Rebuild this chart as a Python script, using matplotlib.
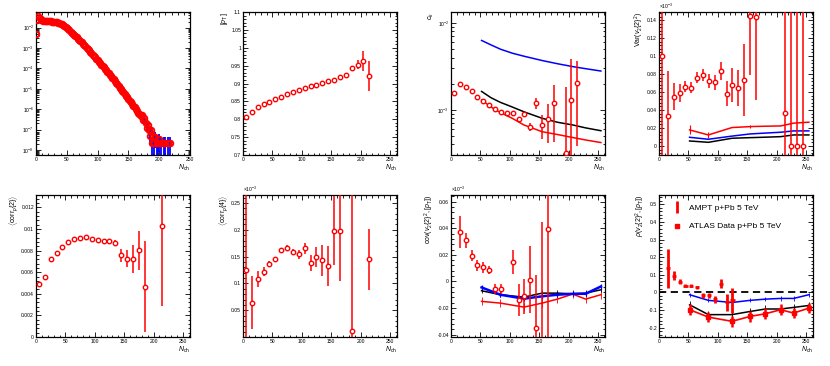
import numpy as np
import matplotlib
matplotlib.use("Agg")
import matplotlib.pyplot as plt
from matplotlib.ticker import AutoMinorLocator, MultipleLocator, LogLocator
from matplotlib.lines import Line2D

matplotlib.rcParams['font.family'] = ['Liberation Sans', 'DejaVu Sans']
matplotlib.rcParams['mathtext.fontset'] = 'custom'
matplotlib.rcParams['mathtext.rm'] = 'Liberation Sans'
matplotlib.rcParams['mathtext.it'] = 'Liberation Sans:italic'

RED, BLUE = "#ff0000", "#0000ff"

# ---- panel 1: multiplicity distribution (log10 of P(Nch)) ----
mult_n = np.arange(0, 171, 2)
mult_log = [-2.30, -1.60, -1.44, -1.52, -1.60, -1.64, -1.66, -1.66, -1.67, -1.67,
            -1.68, -1.68, -1.69, -1.70, -1.71, -1.72, -1.73, -1.74, -1.76, -1.78,
            -1.80, -1.84, -1.88, -1.93, -1.98, -2.03, -2.08, -2.13, -2.19, -2.24,
            -2.30, -2.36, -2.42, -2.48, -2.54, -2.60, -2.66, -2.72, -2.79, -2.85,
            -2.92, -2.98, -3.05, -3.11, -3.18, -3.25, -3.32, -3.39, -3.46, -3.53,
            -3.60, -3.67, -3.74, -3.81, -3.88, -3.95, -4.02, -4.09, -4.17, -4.24,
            -4.32, -4.39, -4.47, -4.54, -4.62, -4.70, -4.78, -4.86, -4.94, -5.02,
            -5.10, -5.18, -5.26, -5.34, -5.42, -5.50, -5.58, -5.66, -5.75, -5.83,
            -5.91, -6.00, -6.08, -6.17, -6.25, -6.34]
tail_n = [172, 174, 176, 178, 180, 182, 184, 185, 187, 188, 190, 192, 194, 196,
          198, 200, 203, 207, 210, 214, 218]
tail_log = [-6.30, -6.55, -6.45, -6.70, -6.90, -6.80, -7.00, -7.30, -7.00, -7.67,
            -7.30, -7.67, -7.37, -7.67, -7.67, -7.45, -7.67, -7.67, -7.67, -7.67,
            -7.67]
single_count_log = -7.67

# ---- bin centres for the profile panels ----
nb = [5, 15, 25, 35, 45, 55, 65, 75, 85, 95, 105, 115, 125, 135, 145, 155,
      165, 175, 185, 195, 205, 215]

# panel 2: mean pT
pt_mean = [0.806, 0.821, 0.835, 0.842, 0.849, 0.856, 0.863, 0.870, 0.876, 0.882,
           0.887, 0.892, 0.897, 0.901, 0.906, 0.911, 0.918, 0.924, 0.942, 0.953,
           0.962, 0.921]
pt_err = [0.002, 0.002, 0.002, 0.002, 0.002, 0.002, 0.002, 0.002, 0.002, 0.002,
          0.002, 0.002, 0.002, 0.002, 0.002, 0.002, 0.003, 0.004, 0.008, 0.013,
          0.028, 0.042]

# panel 3: c_k
ck_n = [5, 15, 25, 35, 45, 55, 65, 75, 85, 95, 105, 115, 125, 135, 145, 155,
        165, 175, 195, 205, 215]
ck_val = [1.58e-3, 2.0e-3, 1.83e-3, 1.63e-3, 1.40e-3, 1.25e-3, 1.14e-3, 1.03e-3,
          0.955e-3, 0.93e-3, 0.916e-3, 0.79e-3, 0.89e-3, 0.64e-3, 1.19e-3,
          0.67e-3, 0.79e-3, 1.19e-3, 0.32e-3, 1.30e-3, 2.03e-3]
ck_err = [0.02e-3, 0.02e-3, 0.02e-3, 0.02e-3, 0.02e-3, 0.02e-3, 0.02e-3, 0.02e-3,
          0.02e-3, 0.02e-3, 0.02e-3, 0.03e-3, 0.05e-3, 0.07e-3, 0.17e-3,
          0.21e-3, 0.37e-3, 0.76e-3, 1.5e-3, 2.6e-3, 1.65e-3]
ck_model_n = [52, 68, 84, 104, 124, 155, 181, 207, 229, 255]
ck_blue = [6.3e-3, 5.6e-3, 5.0e-3, 4.5e-3, 4.15e-3, 3.7e-3, 3.4e-3, 3.15e-3,
           2.98e-3, 2.8e-3]
ck_black = [1.63e-3, 1.38e-3, 1.22e-3, 1.08e-3, 0.95e-3, 0.80e-3, 0.72e-3,
            0.67e-3, 0.62e-3, 0.575e-3]
ck_red = [1.30e-3, 1.08e-3, 0.93e-3, 0.80e-3, 0.67e-3, 0.56e-3, 0.52e-3,
          0.48e-3, 0.45e-3, 0.42e-3]

# panel 4: Var(v2{2}^2)  (x 1e-3)
var_n = [5, 15, 25, 35, 45, 55, 65, 75, 85, 95, 105, 115, 125, 135, 145, 155,
         165, 215, 225, 235, 245]
var_val = [0.100, 0.033, 0.055, 0.059, 0.066, 0.065, 0.076, 0.079, 0.0726, 0.0707,
           0.083, 0.058, 0.068, 0.0645, 0.073, 0.1445, 0.1437, 0.037, 0.0, 0.0,
           0.0]
var_err = [0.2, 0.05, 0.015, 0.01, 0.006, 0.006, 0.006, 0.007, 0.008, 0.008,
           0.01, 0.014, 0.019, 0.02, 0.04, 0.065, 0.093, 0.2, 0.2, 0.2, 0.2]
model_n = [52, 84, 124, 155, 181, 207, 229, 255]
var_red = [0.0179, 0.0123, 0.0205, 0.0216, 0.0220, 0.0223, 0.0254, 0.0265]
var_red_err = [0.005, 0.003, 0.0, 0.002, 0.0, 0.0, 0.0, 0.0]
var_blue = [0.0097, 0.0075, 0.0110, 0.0134, 0.0144, 0.0153, 0.0168, 0.0168]
var_black = [0.0056, 0.0041, 0.0086, 0.0093, 0.0098, 0.0104, 0.0123, 0.0123]

# panel 5: <corr_p{2}>
c2_n = [5, 15, 25, 35, 45, 55, 65, 75, 85, 95, 105, 115, 125, 135, 145, 155,
        165, 175, 185, 215]
c2_val = [0.00490, 0.00554, 0.00725, 0.00781, 0.00834, 0.00880, 0.00911, 0.00918,
          0.00927, 0.00908, 0.00896, 0.00890, 0.00893, 0.00874, 0.00756, 0.00725,
          0.00725, 0.00802, 0.00467, 0.01027]
c2_err = [0.0001, 0.0001, 0.0001, 0.0001, 0.0001, 0.0001, 0.0001, 0.0001, 0.0001,
          0.0001, 0.0001, 0.0001, 0.0001, 0.0002, 0.0006, 0.0008, 0.0013, 0.0018,
          0.0042, 0.0074]

# panel 6: <corr_p{4}>  (x 1e-3)
c4_n = [5, 15, 25, 35, 45, 55, 65, 75, 85, 95, 105, 115, 125, 135, 145, 155,
        165, 185, 215]
c4_val = [0.125, 0.0642, 0.1088, 0.1218, 0.1367, 0.1447, 0.1615, 0.1664, 0.1584,
          0.154, 0.1652, 0.1385, 0.1497, 0.1429, 0.1323, 0.1986, 0.1974, 0.0104,
          0.1447]
c4_err = [0.3, 0.05, 0.015, 0.008, 0.005, 0.004, 0.004, 0.005, 0.006, 0.008, 0.01,
          0.015, 0.019, 0.029, 0.038, 0.065, 0.093, 0.3, 0.057]

# panel 7: cov(v2{2}^2,[pT])  (x 1e-3)
cov_n = [15, 25, 35, 45, 55, 65, 75, 85, 105, 115, 125, 135, 145, 155, 165]
cov_val = [0.037, 0.0308, 0.0195, 0.012, 0.0105, 0.0085, -0.0058, -0.0058, 0.0143,
           -0.0142, -0.0112, 0.0013, -0.035, -0.045, 0.0395]
cov_err = [0.012, 0.006, 0.004, 0.004, 0.004, 0.003, 0.004, 0.004, 0.009, 0.012,
           0.013, 0.025, 0.04, 0.09, 0.1]
cov_black = [-0.0070, -0.0100, -0.0118, -0.0088, -0.0088, -0.0093, -0.0088, -0.0063]
cov_blue = [-0.0045, -0.0100, -0.0130, -0.0112, -0.0100, -0.0093, -0.0093, -0.0038]
cov_red = [-0.0150, -0.0163, -0.0193, -0.0163, -0.0133, -0.0095, -0.0133, -0.0100]

# panel 8: rho(v2{2}^2,[pT])
rho_n = [15, 25, 35, 45, 55, 65, 75, 85, 95, 105, 115, 125]
rho_val = [0.138, 0.094, 0.062, 0.038, 0.038, 0.030, -0.017, -0.017, -0.038, 0.049,
           -0.057, -0.045]
rho_err = [0.11, 0.025, 0.012, 0.008, 0.008, 0.008, 0.012, 0.012, 0.02, 0.025,
           0.05, 0.07]
rho_blue = [-0.013, -0.045, -0.057, -0.045, -0.038, -0.034, -0.034, -0.013]
rho_black = [-0.070, -0.126, -0.126, -0.108, -0.094, -0.094, -0.085, -0.074]
rho_data = [-0.098, -0.140, -0.164, -0.136, -0.121, -0.098, -0.117, -0.089]
rho_data_err = [0.03, 0.03, 0.03, 0.03, 0.03, 0.03, 0.03, 0.03]


def style(ax, xmax=262, log=False):
    ax.set_xlim(0, xmax)
    ax.xaxis.set_major_locator(MultipleLocator(50))
    ax.xaxis.set_minor_locator(MultipleLocator(10))
    if not log:
        ax.yaxis.set_minor_locator(AutoMinorLocator(5))
    ax.tick_params(which="both", direction="in", top=True, right=True,
                   labelsize=3.6, pad=1.5, width=0.6)
    ax.tick_params(which="major", length=3.5)
    ax.tick_params(which="minor", length=1.8)
    for s in ax.spines.values():
        s.set_linewidth(0.9)
    ax.set_xlabel(r"$N_{\rm ch}$", loc="right", fontsize=5, labelpad=0.5)


def points(ax, x, y, e, **kw):
    ax.errorbar(x, y, yerr=e, fmt="o", color=RED, mfc="white", mec=RED,
                ms=3.2, mew=1.0, elinewidth=1.1, capsize=0, zorder=5, **kw)


def yl(ax, text):
    ax.set_ylabel(text, loc="top", fontsize=5, labelpad=1)


def mult(ax):
    ax.text(0.0, 1.005, r"$\times10^{-3}$", transform=ax.transAxes,
            fontsize=3.6, ha="left", va="bottom")


fig = plt.figure(figsize=(8.3, 3.66), dpi=100)
lefts = [0.0434, 0.2928, 0.5434, 0.7940]
w = 0.1855
axs_top = [fig.add_axes([l, 0.5765, w, 0.3907]) for l in lefts]
axs_bot = [fig.add_axes([l, 0.0792, w, 0.3880]) for l in lefts]

# ---------- panel 1 ----------
ax = axs_top[0]
all_n = np.concatenate([mult_n, tail_n])
all_v = 10.0 ** np.concatenate([mult_log, tail_log])
v0 = 10.0 ** single_count_log
err = np.sqrt(all_v * v0)
lo = np.minimum(err, all_v * 0.9999)
ax.errorbar(all_n, all_v, yerr=[lo, err], fmt="none", ecolor=BLUE,
            elinewidth=1.3, zorder=2)
ax.plot(all_n, all_v, "o", color=RED, mfc="none", mew=1.4, ms=4.0, zorder=4)
ax.set_yscale("log")
ax.set_ylim(10 ** -8.25, 10 ** -1.23)
style(ax, xmax=250, log=True)
ax.yaxis.set_major_locator(LogLocator(base=10, numticks=12))
ax.yaxis.set_minor_locator(LogLocator(base=10, subs=np.arange(2, 10), numticks=12))

# ---------- panel 2 ----------
ax = axs_top[1]
points(ax, nb, pt_mean, pt_err)
ax.set_ylim(0.7, 1.1)
style(ax)
ax.yaxis.set_major_locator(MultipleLocator(0.05))
ax.yaxis.set_major_formatter(matplotlib.ticker.FuncFormatter(lambda v, p: f"{v:g}"))
yl(ax, r"$[p_{\rm T}]$")

# ---------- panel 3 ----------
ax = axs_top[2]
ax.plot(ck_model_n, ck_blue, color=BLUE, lw=1.1)
ax.plot(ck_model_n, ck_black, color="k", lw=1.1)
ax.plot(ck_model_n, ck_red, color=RED, lw=1.1)
points(ax, ck_n, ck_val, ck_err)
ax.set_yscale("log")
ax.set_ylim(10 ** -3.52, 10 ** -1.873)
style(ax, log=True)
ax.yaxis.set_minor_locator(LogLocator(base=10, subs=np.arange(2, 10), numticks=12))
yl(ax, r"$c_{k}$")

# ---------- panel 4 ----------
ax = axs_top[3]
ax.errorbar(model_n, var_red, yerr=var_red_err, color=RED, lw=1.1,
            elinewidth=0.8, ls="-")
ax.plot(model_n, var_blue, color=BLUE, lw=1.1)
ax.plot(model_n, var_black, color="k", lw=1.1)
points(ax, var_n, var_val, var_err)
ax.set_ylim(-0.01, 0.149)
style(ax)
ax.yaxis.set_major_locator(MultipleLocator(0.02))
ax.yaxis.set_major_formatter(matplotlib.ticker.FuncFormatter(lambda v, p: f"{v:g}"))
yl(ax, r"Var$(v_{2}\{2\}^{2})$")
mult(ax)

# ---------- panel 5 ----------
ax = axs_bot[0]
points(ax, c2_n, c2_val, c2_err)
ax.set_ylim(0, 0.01315)
style(ax)
ax.yaxis.set_major_locator(MultipleLocator(0.002))
ax.yaxis.set_major_formatter(matplotlib.ticker.FuncFormatter(lambda v, p: f"{v:g}"))
yl(ax, r"$\langle$corr$_{p}\{2\}\rangle$")

# ---------- panel 6 ----------
ax = axs_bot[1]
points(ax, c4_n, c4_val, c4_err)
ax.set_ylim(0, 0.265)
style(ax)
ax.yaxis.set_major_locator(MultipleLocator(0.05))
ax.yaxis.set_major_formatter(matplotlib.ticker.FuncFormatter(
    lambda v, p: "" if v == 0 else f"{v:g}"))
yl(ax, r"$\langle$corr$_{p}\{4\}\rangle$")
mult(ax)

# ---------- panel 7 ----------
ax = axs_bot[2]
ax.errorbar(model_n, cov_red, yerr=0.003, color=RED, lw=1.1, elinewidth=0.6)
ax.errorbar(model_n, cov_black, yerr=0.002, color="k", lw=1.1, elinewidth=0.6)
ax.errorbar(model_n, cov_blue, yerr=0.002, color=BLUE, lw=1.8, elinewidth=0.9)
points(ax, cov_n, cov_val, cov_err)
ax.set_ylim(-0.0418, 0.065)
style(ax)
ax.yaxis.set_major_locator(MultipleLocator(0.02))
ax.yaxis.set_major_formatter(matplotlib.ticker.FuncFormatter(lambda v, p: f"{v:g}"))
yl(ax, r"cov$(v_{2}\{2\}^{2},[p_{\rm T}])$")
mult(ax)

# ---------- panel 8 ----------
ax = axs_bot[3]
ax.axhline(0, color="k", ls=(0, (4, 2.5)), lw=1.3)
ax.errorbar(model_n, rho_blue, yerr=0.012, color=BLUE, lw=1.1,
            elinewidth=0.6, ls="-")
ax.errorbar(model_n, rho_black, yerr=0.02, color="k", lw=1.1, elinewidth=0.6)
ax.errorbar(model_n, rho_data, yerr=rho_data_err, xerr=3, color=RED, lw=1.2,
            marker="s", ms=2.5, elinewidth=1.8, capsize=0, zorder=4)
ax.errorbar(rho_n, rho_val, yerr=rho_err, xerr=3.5, fmt="none", ecolor=RED,
            elinewidth=2.0, zorder=5)
ax.set_ylim(-0.253, 0.553)
style(ax)
ax.yaxis.set_major_locator(MultipleLocator(0.1))
ax.yaxis.set_major_formatter(matplotlib.ticker.FuncFormatter(
    lambda v, p: "0" if abs(v) < 1e-9 else f"{v:g}"))
yl(ax, r"$\rho(v_{2}\{2\}^{2},[p_{\rm T}])$")
handles = [Line2D([], [], color=RED, marker="|", ms=9, mew=2.0, ls="none"),
           Line2D([], [], color=RED, marker="s", ms=3, ls="none")]
ax.legend(handles, ["AMPT p+Pb 5 TeV", "ATLAS Data p+Pb 5 TeV"],
          loc="upper left", bbox_to_anchor=(0.04, 0.99), frameon=False,
          fontsize=6, handlelength=1.0, handletextpad=1.0, labelspacing=1.3)

fig.savefig("out.png", dpi=100)
